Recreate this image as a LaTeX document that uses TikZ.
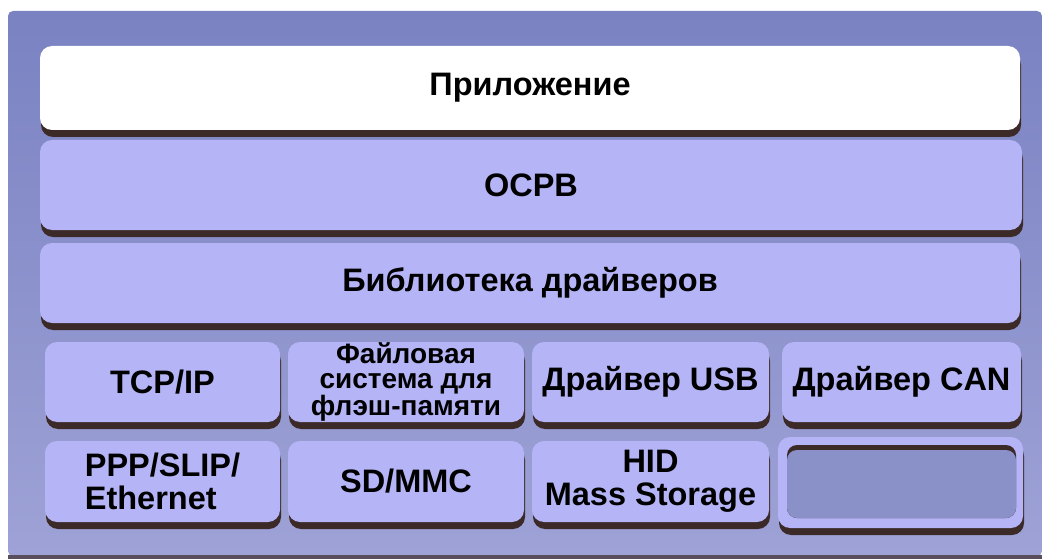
\documentclass[tikz,border=0pt]{standalone}
\usepackage{fontspec}
\setmainfont{Liberation Sans}
\usetikzlibrary{shadows}
\definecolor{panelTop}{HTML}{7A82C2}
\definecolor{panelBot}{HTML}{9EA2D6}
\definecolor{boxfill}{HTML}{B4B4F6}
\definecolor{shadowc}{HTML}{3B2A28}
\definecolor{innerc}{HTML}{8A90C8}
\tikzset{
  layer/.style={rounded corners=12pt, fill=boxfill, draw=none, inner sep=0pt,
    font=\fontsize{32.5}{35}\selectfont\bfseries, align=center,
    drop shadow={shadow xshift=1pt, shadow yshift=-7pt, fill=shadowc, opacity=1}},
  smalltext/.style={font=\fontsize{28}{25}\selectfont\bfseries},
}
\newcommand{\lbox}[7][]{% opts, name, x1, y1, x2, y2, text
  \node[layer, #1, minimum width={#5-#3}, minimum height={#6-#4}] (#2) at ({(#3+#5)/2},{(#4+#6)/2}) {#7};}
\begin{document}
\begin{tikzpicture}[x=1pt,y=-1pt]
\useasboundingbox (0,0) rectangle (1042,559);
\fill[white] (0,0) rectangle (1042,559);
\shade[top color=panelTop, bottom color=panelBot, rounded corners=5pt] (8,11) rectangle (1042,556);
\fill[shadowc!70!panelBot] (8,555) rectangle (1042,559);
% layers
\lbox[fill=white]{app}{40}{46}{1020}{130}{Приложение}
\lbox{rtos}{40}{140}{1022}{230}{ОСРВ}
\lbox{lib}{40}{243}{1020}{323}{Библиотека драйверов}
% row 4
\lbox{tcp}{45}{342}{280}{422}{TCP/IP}
\lbox[smalltext]{fs}{288}{342}{524}{422}{Файловая\\система для\\флэш-памяти}
\lbox{usb}{532}{342}{769}{422}{Драйвер USB}
\lbox{can}{782}{342}{1021}{422}{Драйвер CAN}
% row 5
\lbox[align=left]{ppp}{45}{441}{280}{522}{PPP/SLIP/\\[-2pt]Ethernet}
\lbox{sd}{288}{441}{524}{522}{SD/MMC}
\lbox{hid}{532}{441}{769}{522}{HID\\[-2pt]Mass Storage}
\lbox{empty}{778}{437}{1023}{528}{}
\fill[shadowc, rounded corners=10pt] (787,445) rectangle (1016,518);
\fill[innerc, rounded corners=10pt] (787,450) rectangle (1016,518);
\end{tikzpicture}
\end{document}
